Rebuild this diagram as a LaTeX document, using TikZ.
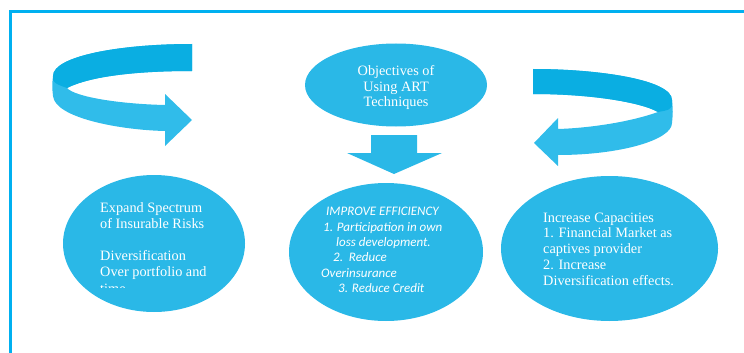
\documentclass[tikz,border=0pt]{standalone}
\usepackage{fontspec}
\setmainfont{Liberation Serif}
\newfontfamily\calib{Carlito}
\usetikzlibrary{shapes.geometric}
\definecolor{framec}{RGB}{0,176,240}
\definecolor{ellc}{RGB}{42,184,231}
\definecolor{arrdark}{RGB}{10,174,226}
\definecolor{arrlight}{RGB}{48,188,234}
\tikzset{
  blob/.style={ellipse, fill=ellc, draw=none, inner sep=0pt},
  serifline/.style={anchor=base west, inner sep=0pt, text=white, font=\fontsize{14.3}{15.7}\selectfont},
  serifmid/.style={anchor=base, inner sep=0pt, text=white, font=\fontsize{14.3}{15.7}\selectfont},
  itline/.style={anchor=base west, inner sep=0pt, text=white, font=\calib\itshape\fontsize{13}{15}\selectfont},
}
\begin{document}
\begin{tikzpicture}[x=1pt, y=-1pt]
\useasboundingbox (0,0) rectangle (744,353);
% frame
\draw[framec, line width=3pt] (10,353) -- (10,12) -- (744,12);

% left curved arrow
\fill[arrlight] (192,44) .. controls (120,44) and (53,56) .. (53,76)
  .. controls (52,86) .. (53,96)
  .. controls (55,118) and (120,130) .. (165,131) -- (165,146) -- (192,120) -- (165,94) -- (165,105)
  .. controls (120,104) and (75,97) .. (67,88)
  .. controls (95,74) and (150,71) .. (192,71) -- cycle;
\fill[arrdark] (192,44) .. controls (120,44) and (53,56) .. (53,76) -- (53,80)
  .. controls (56,84) .. (67,88)
  .. controls (95,74) and (150,71) .. (192,71) -- cycle;

% right curved arrow
\fill[arrlight] (533,69) .. controls (600,69) and (672,80) .. (672,100)
  .. controls (673,112) .. (672,123)
  .. controls (672,140) and (620,155) .. (558,155) -- (558,166) -- (534,143) -- (558,118) -- (558,129)
  .. controls (590,128) and (630,122) .. (658,112)
  .. controls (640,102) and (590,94) .. (533,94) -- cycle;
\fill[arrdark] (533,69) .. controls (600,69) and (672,80) .. (672,100) -- (672,106)
  .. controls (669,110) .. (658,112)
  .. controls (640,102) and (590,94) .. (533,94) -- cycle;

% down arrow
\fill[ellc] (371,135) -- (417,135) -- (417,153) -- (442,153) -- (394,174) -- (347,153) -- (371,153) -- cycle;

% ellipses
\node[blob, minimum width=182pt, minimum height=83pt] (obj) at (396,85) {};
\node[blob, minimum width=182pt, minimum height=137pt] (left) at (154,243.5) {};
\node[blob, minimum width=194pt, minimum height=138pt] (mid) at (386,252) {};
\node[blob, minimum width=217pt, minimum height=145pt] (right) at (609.5,248.5) {};

% top text
\node[serifmid] (o1) at (396,76) {Objectives of};
\node[serifmid] (o2) at (396,91) {Using ART};
\node[serifmid] (o3) at (396,106) {Techniques};

% left text
\node[serifline] (l1) at (100,212.7) {Expand Spectrum};
\node[serifline] (l2) at (100,228.4) {of Insurable Risks};
\node[serifline] (l3) at (100,260.7) {Diversification};
\node[serifline] (l4) at (100,276.3) {Over portfolio and};
\begin{scope}
\clip (90,280) rectangle (140,287.5);
\node[serifline] (l5) at (100,293) {time};
\end{scope}

% middle text
\node[itline] (m1) at (326,215) {IMPROVE EFFICIENCY};
\node[itline] (m2) at (323,231) {1. Participation in own};
\node[itline] (m3) at (336,246) {loss development.};
\node[itline] (m4) at (333,261) {2.\ \ Reduce};
\node[itline] (m5) at (321,277) {Overinsurance};
\node[itline] (m6) at (338,292) {3. Reduce Credit};

% right text
\node[serifline] (r1) at (543,222) {Increase Capacities};
\node[serifline] (r2) at (543,237.75) {1. Financial Market as};
\node[serifline] (r3) at (543,253.5) {captives provider};
\node[serifline] (r4) at (543,269.25) {2. Increase};
\node[serifline] (r5) at (543,285) {Diversification effects.};
\end{tikzpicture}
\end{document}
